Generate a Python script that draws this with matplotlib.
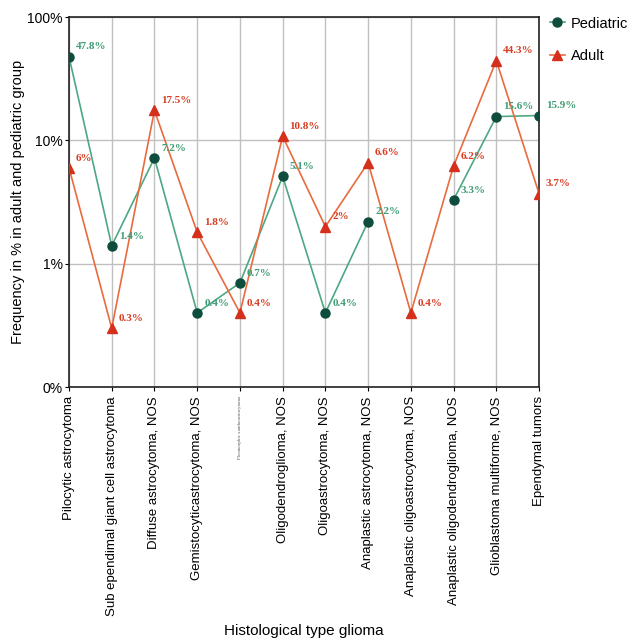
import numpy as np
import matplotlib.pyplot as plt

categories = ["Pilocytic astrocytoma", "Sub ependimal giant cell astrocytoma",
              "Diffuse astrocytoma, NOS", "Gemistocyticastrocytoma, NOS",
              "Pleomorphic xanthoastrocytoma", "Oligodendroglioma, NOS",
              "Oligoastrocytoma, NOS", "Anaplastic astrocytoma, NOS",
              "Anaplastic oligoastrocytoma, NOS", "Anaplastic oligodendroglioma, NOS",
              "Glioblastoma multiforme, NOS", "Ependymal tumors"]
pediatric = [47.8, 1.4, 7.2, 0.4, 0.7, 5.1, 0.4, 2.2, np.nan, 3.3, 15.6, 15.9]
adult = [6, 0.3, 17.5, 1.8, 0.4, 10.8, 2, 6.6, 0.4, 6.2, 44.3, 3.7]
yticks = [0.1, 1, 10, 100]
ytick_labels = ["0%", "1%", "10%", "100%"]

plt.rcParams['font.family'] = ['Liberation Sans', 'DejaVu Sans']

fig = plt.figure(figsize=(6.29, 6.42), dpi=100)
ax = fig.add_axes([0.1097, 0.397, 0.7473, 0.5765])

x = np.arange(len(categories))
ped_line = '#4da882'
ped_mark = '#0e4d3d'
ad_line = '#ea6a3f'
ad_mark = '#d5301c'

ax.plot(x, pediatric, color=ped_line, lw=1.2, marker='o', ms=6.5,
        mfc=ped_mark, mec=ped_mark, label='Pediatric', zorder=3)
ax.plot(x, adult, color=ad_line, lw=1.2, marker='^', ms=7.5,
        mfc=ad_mark, mec=ad_mark, label='Adult', zorder=4)

for i, v in enumerate(pediatric):
    if not np.isnan(v):
        ax.annotate(f"{v:g}%", (x[i], v), xytext=(5, 7), textcoords='offset points',
                    ha='left', va='center', color='#3f9c74', fontsize=8,
                    fontweight='bold', family='Liberation Serif', zorder=5)
for i, v in enumerate(adult):
    ax.annotate(f"{v:g}%", (x[i], v), xytext=(5, 7), textcoords='offset points',
                ha='left', va='center', color='#d83d22', fontsize=8,
                fontweight='bold', family='Liberation Serif', zorder=5)

ax.set_yscale('log')
ax.set_ylim(0.1, 100)
ax.set_xlim(0, len(categories) - 1)
ax.set_yticks(yticks)
ax.set_yticklabels(ytick_labels, fontsize=10)
ax.minorticks_off()
ax.set_xticks(x)
ax.set_xticklabels(categories, rotation=90, fontsize=9.5)
tiny = ax.get_xticklabels()[4]
tiny.set_fontsize(3.5)
tiny.set_family('Liberation Serif')
tiny.set_color('#555555')
ax.tick_params(axis='both', length=3)
ax.tick_params(axis='y', pad=1.5)

ax.grid(True, color='#c0c0c0', lw=1)
ax.set_axisbelow(True)
for s in ax.spines.values():
    s.set_color('#222222')
    s.set_linewidth(1.2)

ax.set_ylabel("Frequency in % in adult and pediatric group", fontsize=10.5)
ax.yaxis.set_label_coords(-0.094, 0.5)
ax.set_xlabel("Histological type glioma", fontsize=11)
ax.xaxis.set_label_coords(0.5, -0.64)

ax.legend(loc='upper left', bbox_to_anchor=(1.005, 1.025), frameon=False,
          fontsize=10.5, handlelength=1.0, labelspacing=1.3, handletextpad=0.4,
          borderaxespad=0.2)

fig.savefig('out.png', dpi=100)
